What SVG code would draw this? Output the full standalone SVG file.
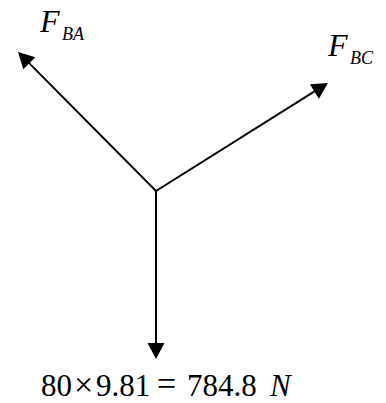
<svg xmlns="http://www.w3.org/2000/svg" width="386" height="403" viewBox="0 0 386 403">
<style>
.ln{stroke:#000;stroke-width:2;fill:none;marker-end:url(#ah)}
text{font-family:"Liberation Serif","Times New Roman",serif;fill:#000}
.it{font-style:italic}
.num{font-size:31px}
.op{font-size:34px}
</style>
<defs>
<marker id="ah" markerUnits="userSpaceOnUse" markerWidth="17" markerHeight="17" refX="2" refY="8.5" orient="auto" overflow="visible">
<path d="M0,0 L16,8.5 L0,17 z" fill="#000"/>
</marker>
</defs>
<rect width="386" height="403" fill="#fff"/>
<g id="connectors">
<line class="ln" x1="156" y1="191" x2="27.9" y2="61.9"/>
<line class="ln" x1="156" y1="191" x2="316.1" y2="90.4"/>
<line class="ln" x1="156" y1="190" x2="156" y2="345"/>
</g>
<g id="label-FBA">
<text x="40" y="32" font-size="32" class="it">F</text>
<text x="62" y="40" font-size="18" class="it">BA</text>
</g>
<g id="label-FBC">
<text x="328" y="56" font-size="32" class="it">F</text>
<text x="350" y="64" font-size="18" class="it">BC</text>
</g>
<g id="label-weight">
<text class="num" x="41" y="396">80</text>
<text class="op" x="74" y="396">×</text>
<text class="num" x="96" y="396">9.81</text>
<text class="op" x="157" y="395">=</text>
<text class="num" x="187" y="396">784.8</text>
<text class="num it" x="270" y="396">N</text>
</g>
</svg>
